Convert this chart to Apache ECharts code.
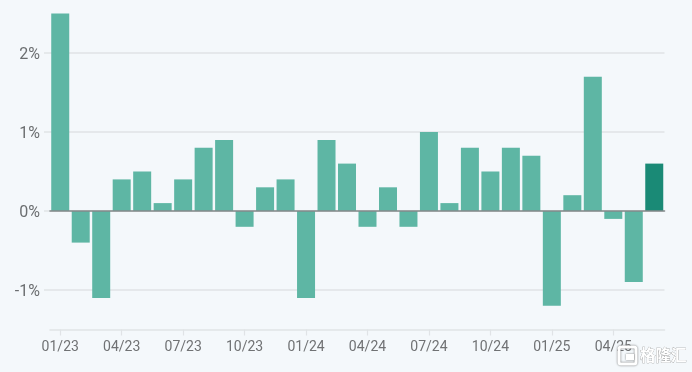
<!DOCTYPE html>
<html><head><meta charset="utf-8">
<style>html,body{margin:0;padding:0;background:#f4f8fb}#c{width:692px;height:372px}</style>
<script src="https://cdn.jsdelivr.net/npm/echarts@6/dist/echarts.min.js"></script>
</head><body><div id="c"></div>
<script>
const months = ['01/23','02/23','03/23','04/23','05/23','06/23','07/23','08/23','09/23','10/23','11/23','12/23','01/24','02/24','03/24','04/24','05/24','06/24','07/24','08/24','09/24','10/24','11/24','12/24','01/25','02/25','03/25','04/25','05/25','06/25'];
const returns = [2.5,-0.4,-1.1,0.4,0.5,0.1,0.4,0.8,0.9,-0.2,0.3,0.4,-1.1,0.9,0.6,-0.2,0.3,-0.2,1.0,0.1,0.8,0.5,0.8,0.7,-1.2,0.2,1.7,-0.1,-0.9,0.6];
const yTicks = [-1,0,1,2];
const chart = echarts.init(document.getElementById('c'),null,{renderer:'canvas'});
const font = 'Roboto';
const wmShadow = {shadowColor:'rgba(60,60,60,0.75)',shadowBlur:2};
chart.setOption({
  animation:false,
  backgroundColor:'#f4f8fb',
  grid:{left:50,right:27.5,top:13.5,bottom:42.5},
  xAxis:[
    {type:'category',data:months,z:5,axisLine:{onZero:true,lineStyle:{color:'#84898b',width:1.6}},axisTick:{show:false},axisLabel:{show:false},splitLine:{show:false}},
    {type:'category',data:months,position:'bottom',
     axisLine:{onZero:false,lineStyle:{color:'#e0e3e6',width:1.5}},
     axisTick:{show:true,alignWithLabel:true,interval:2,length:6,lineStyle:{color:'#e0e3e6',width:1.2}},
     axisLabel:{interval:2,color:'#707274',fontFamily:font,fontSize:14,margin:11},
     splitLine:{show:false}}
  ],
  yAxis:{type:'value',min:-1.5,max:2.5,
    axisLine:{show:false},
    axisTick:{show:true,length:6,customValues:yTicks,lineStyle:{color:'#e0e3e6',width:1.5}},
    axisLabel:{customValues:yTicks,formatter:v=>'{a|'+v+'%}',margin:10,
      rich:{a:{color:'#6b6e70',fontFamily:font,fontSize:16,padding:[4,0,0,0]}}},
    splitLine:{show:true,lineStyle:{color:'#e0e3e6',width:1.5}}},
  series:[{type:'bar',xAxisIndex:0,barWidth:18,
    data:returns.map((v,i)=>({value:v,itemStyle:{color:i===returns.length-1?'#1a8a76':'#5bb5a2',opacity:i===returns.length-1?1:0.98}}))
  }],
  graphic:[
    {type:'rect',z:100,shape:{x:619,y:347,width:17,height:17,r:2},style:{fill:'none',stroke:'#ffffff',lineWidth:3,...wmShadow}},
    {type:'rect',z:100,shape:{x:626,y:354,width:8,height:6},style:{fill:'#ffffff',...wmShadow}},
    {type:'text',z:100,x:640,y:347,style:{text:'格隆汇',fill:'#ffffff',stroke:'#8a8a8a',lineWidth:0.5,fontFamily:'Noto Sans CJK SC',fontSize:15.5,fontWeight:'bold'}}
  ]
});
</script></body></html>
